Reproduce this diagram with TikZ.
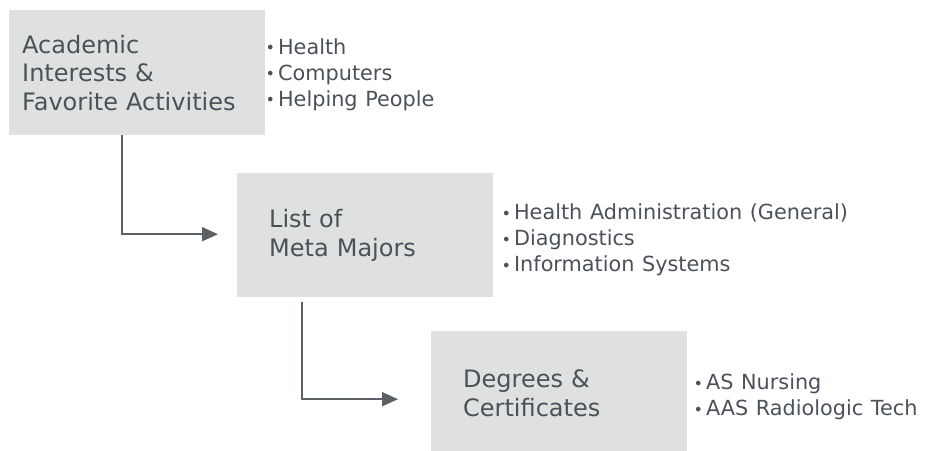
\documentclass[tikz,border=0pt]{standalone}
\usepackage{fontspec}
\setmainfont{DejaVu Sans}[WordSpace=1.15]
\usetikzlibrary{arrows.meta,positioning}
\definecolor{boxfill}{HTML}{DFE0E0}
\definecolor{txt}{HTML}{4B5159}
\definecolor{conncol}{HTML}{5C6168}
\newcommand\bl{\makebox[12.5pt][l]{\fontsize{16}{16}\selectfont\raisebox{0.5pt}{•}}}
\begin{document}
\begin{tikzpicture}[x=1pt,y=-1pt,
  box/.style={fill=boxfill, draw=none, minimum width=256pt, minimum height=125pt,
    align=left, text=txt, font=\fontsize{24}{28.5}\selectfont, anchor=north west},
  blist/.style={align=left, text=txt, font=\fontsize{20.8}{26}\selectfont, anchor=west, inner sep=0pt},
  conn/.style={draw=conncol, line width=2pt, -{Triangle[length=16pt,width=14pt]}}]
\useasboundingbox (0,0) rectangle (925,450);
\node[box, text width=230pt, inner xsep=13pt] (b1) at (9,10) {Academic\\Interests \&\\Favorite Activities};
\node[box, text width=192pt, inner xsep=32pt, minimum height=124pt] (b2) at (237,173) {List of\\Meta Majors};
\node[box, text width=192pt, inner xsep=32pt, minimum height=124pt] (b3) at (431,331) {Degrees \&\\Certificates};
\node[blist] (l1) at ([xshift=0pt,yshift=-2pt]b1.east) {\bl Health\\\bl Computers\\\bl Helping People};
\node[blist] (l2) at ([xshift=8pt,yshift=-5pt]b2.east) {\bl Health Administration (General)\\\bl Diagnostics\\\bl Information Systems};
\node[blist] (l3) at ([xshift=6pt,yshift=-4pt]b3.east) {\bl AS Nursing\\\bl AAS Radiologic Tech};
\coordinate (t1) at ([xshift=-19pt,yshift=1pt]b2.west);
\coordinate (t2) at ([xshift=-33pt,yshift=-6pt]b3.west);
\draw[conn] ([xshift=-15.3pt]b1.south) |- (t1);
\draw[conn] ([xshift=-63pt,yshift=-5pt]b2.south) |- (t2);
\end{tikzpicture}
\end{document}
